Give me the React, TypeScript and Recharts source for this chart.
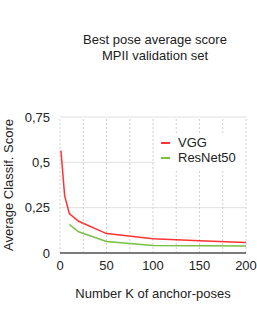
import React from 'react';
import { LineChart, Line, XAxis, YAxis, CartesianGrid, ReferenceLine, Legend } from 'recharts';

const vggK = [1, 5, 10, 20, 50, 100, 150, 200];
const vggScore = [0.565, 0.316, 0.218, 0.175, 0.107, 0.078, 0.068, 0.058];
const resK = [10, 20, 50, 100, 150, 200];
const resScore = [0.157, 0.117, 0.064, 0.042, 0.040, 0.038];
const xTicks = [0, 50, 100, 150, 200];
const xGrid = [0, 25, 50, 75, 100, 125, 150, 175, 200];
const yTicks = [0, 0.25, 0.5, 0.75];
const titleLines = ['Best pose average score', 'MPII validation set'];
const seriesNames = ['VGG', 'ResNet50'];

const vggData = vggK.map((k, i) => ({ k, v: vggScore[i] }));
const resData = resK.map((k, i) => ({ k, v: resScore[i] }));

const FONT = '"Liberation Sans", Arial, Helvetica, sans-serif';
const TEXT = '#222';

const LegendBox = (props: any) => {
  const payload = (props.payload || []).slice().sort(
    (a: any, b: any) => seriesNames.indexOf(a.value) - seriesNames.indexOf(b.value)
  );
  return (
    <div style={{ background: '#fff', width: 90, height: 37, paddingTop: 2, boxSizing: 'border-box' }}>
      {payload.map((p: any) => (
        <div key={p.value} style={{ position: 'relative', height: 15, fontFamily: FONT, fontSize: 13, color: TEXT }}>
          <div style={{ position: 'absolute', left: 6, top: 7, width: 9, height: 1.5, background: p.color }} />
          <div style={{ position: 'absolute', left: 23, top: 0, lineHeight: '15px' }}>{p.value}</div>
        </div>
      ))}
    </div>
  );
};

export default function App() {
  return (
    <div style={{ position: 'absolute', left: 0, top: 0, width: 257, height: 332, background: '#fff' }}>
      <div style={{ position: 'absolute', left: 60, width: 190, top: 32, textAlign: 'center', fontFamily: FONT, fontSize: 13, lineHeight: '15.6px', color: TEXT, whiteSpace: 'nowrap' }}>
        {titleLines.map((t) => (
          <div key={t}>{t}</div>
        ))}
      </div>
      <LineChart width={257} height={332} margin={{ top: 80, right: 11, bottom: 29, left: 0 }}>
        <CartesianGrid vertical={false} stroke="#e0e0e0" strokeWidth={1} />
        {xGrid.map((x) => (
          <ReferenceLine key={x} x={x} stroke="#cfcfcf" strokeDasharray="2 2" strokeWidth={1} ifOverflow="extendDomain" />
        ))}
        <XAxis
          type="number"
          dataKey="k"
          domain={[0, 200]}
          ticks={xTicks}
          allowDuplicatedCategory={false}
          height={50}
          tickLine={false}
          axisLine={{ stroke: '#555', strokeWidth: 1.5 }}
          tick={{ fill: TEXT, fontSize: 13, fontFamily: FONT }}
          label={{ value: 'Number K of anchor-poses', position: 'insideBottom', offset: 5, fill: TEXT, fontSize: 13, fontFamily: FONT }}
        />
        <YAxis
          type="number"
          domain={[0, 0.75]}
          ticks={yTicks}
          width={60}
          axisLine={false}
          tickLine={false}
          tickMargin={4}
          tickFormatter={(v: number) => String(v).replace('.', ',')}
          tick={{ fill: TEXT, fontSize: 13, fontFamily: FONT }}
          label={{ value: 'Average Classif. Score', angle: -90, position: 'insideLeft', offset: 8, style: { textAnchor: 'middle' }, fill: TEXT, fontSize: 13, fontFamily: FONT }}
        />
        <Legend
          verticalAlign="top"
          content={<LegendBox />}
          wrapperStyle={{ position: 'absolute', left: 155, top: 133, width: 90, height: 37 }}
        />
        <Line data={vggData} dataKey="v" name="VGG" stroke="#ff3333" strokeWidth={1.5} dot={false} isAnimationActive={false} />
        <Line data={resData} dataKey="v" name="ResNet50" stroke="#77c043" strokeWidth={1.5} dot={false} isAnimationActive={false} />
      </LineChart>
    </div>
  );
}
